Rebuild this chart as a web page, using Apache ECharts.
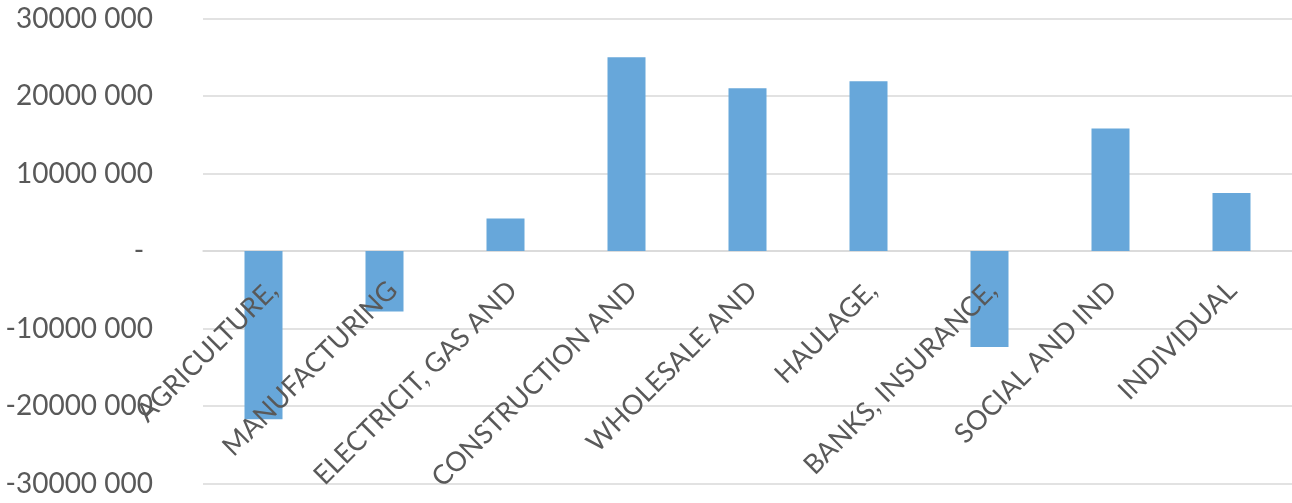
<!DOCTYPE html>
<html>
<head>
<meta charset="utf-8">
<script src="https://cdn.jsdelivr.net/npm/echarts@6/dist/echarts.min.js"></script>
<style>
  html, body { margin: 0; padding: 0; background: #ffffff; }
  #chart { width: 1292px; height: 503px; }
</style>
</head>
<body>
<div id="chart"></div>
<script>
const categories = ['AGRICULTURE,', 'MANUFACTURING', 'ELECTRICIT, GAS AND', 'CONSTRUCTION AND', 'WHOLESALE AND', 'HAULAGE,', 'BANKS, INSURANCE,', 'SOCIAL AND IND', 'INDIVIDUAL'];
const values = [-21700000, -7800000, 4200000, 25000000, 21000000, 21900000, -12400000, 15800000, 7500000];
const yTicks = [-30000000, -20000000, -10000000, 0, 10000000, 20000000, 30000000];
const yTickLabels = ['-30000 000', '-20000 000', '-10000 000', '- \u200A', '10000 000', '20000 000', '30000 000'];

const FONT = 'Lato';
const chart = echarts.init(document.getElementById('chart'), null, { renderer: 'canvas' });
chart.setOption({
  animation: false,
  backgroundColor: '#ffffff',
  grid: [
    { left: 203, right: -3, top: 18.5, bottom: 19.5 },
    { left: 213, right: -13, top: 18.5, bottom: 227 }
  ],
  xAxis: [
    {
      type: 'category', gridIndex: 0, data: categories,
      axisLine: { show: true, onZero: true, lineStyle: { color: '#d9d9d9', width: 1.5 } },
      axisTick: { show: false },
      axisLabel: { show: false },
      splitLine: { show: false }
    },
    {
      type: 'category', gridIndex: 1, data: categories, z: 10,
      axisLine: { show: false, onZero: false },
      axisTick: { show: false },
      splitLine: { show: false },
      axisLabel: {
        show: true, interval: 0, rotate: 45, margin: 10,
        fontFamily: FONT, fontSize: 27, color: '#595959'
      }
    }
  ],
  yAxis: [
    {
      type: 'value', gridIndex: 0, min: -30000000, max: 30000000, interval: 10000000,
      axisLine: { show: false }, axisTick: { show: false },
      splitLine: { show: true, lineStyle: { color: '#d9d9d9', width: 1.5 } },
      axisLabel: {
        margin: 50, fontFamily: FONT, fontSize: 28, color: '#595959',
        formatter: function (v) {
          const i = yTicks.indexOf(v);
          return i >= 0 ? yTickLabels[i] : '';
        }
      }
    },
    { type: 'value', gridIndex: 1, show: false, min: 0, max: 1 }
  ],
  series: [
    {
      type: 'bar', xAxisIndex: 0, yAxisIndex: 0, data: values,
      barWidth: 38,
      itemStyle: { color: '#67a7da' }
    }
  ]
});
</script>
</body>
</html>
